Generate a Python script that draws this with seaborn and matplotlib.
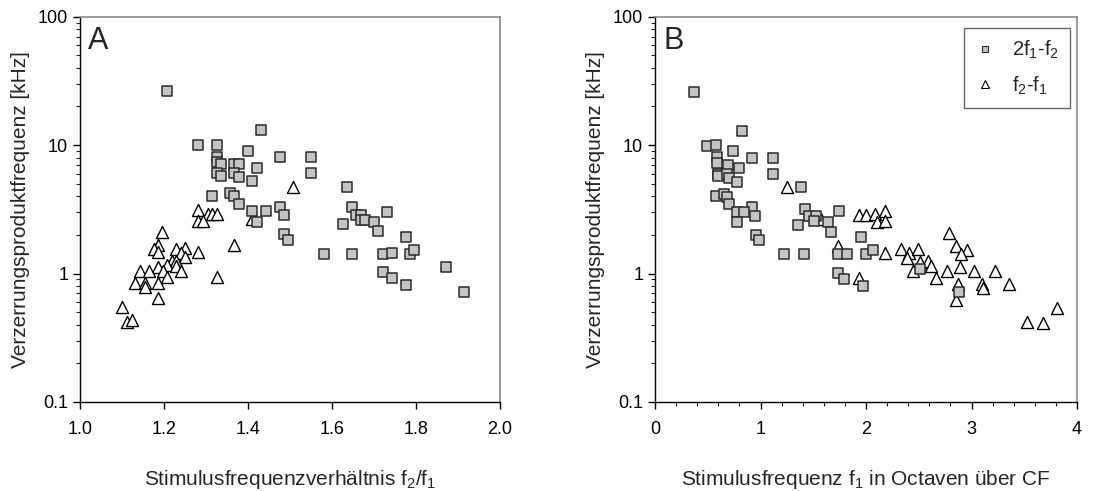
import numpy as np
import pandas as pd
import matplotlib
matplotlib.use("Agg")
import matplotlib.pyplot as plt
from matplotlib.ticker import FixedLocator, MultipleLocator, LogLocator, NullFormatter, FuncFormatter
from matplotlib.lines import Line2D
import seaborn as sns

# ---- data: panel A (ratio f2/f1) ----
a_sq_x = [1.206, 1.432, 1.281, 1.325, 1.40, 1.475, 1.55, 1.55, 1.325, 1.325, 1.336, 1.367, 1.379,
          1.421, 1.325, 1.336, 1.367, 1.379, 1.41, 1.315, 1.357, 1.367, 1.379, 1.475, 1.41, 1.443,
          1.486, 1.421, 1.486, 1.496, 1.635, 1.647, 1.657, 1.668, 1.668, 1.679, 1.70, 1.732, 1.625,
          1.71, 1.775, 1.582, 1.647, 1.721, 1.743, 1.786, 1.796, 1.721, 1.743, 1.775, 1.871, 1.914]
a_sq_y = [26.2, 13.1, 9.95, 10.0, 9.0, 8.08, 8.08, 6.05, 8.1, 7.4, 7.07, 7.07, 7.07,
          6.65, 6.08, 5.77, 6.08, 5.66, 5.25, 4.05, 4.24, 4.05, 3.45, 3.3, 3.06, 3.06,
          2.84, 2.54, 2.05, 1.84, 4.73, 3.27, 2.85, 2.85, 2.63, 2.63, 2.53, 3.04, 2.44,
          2.14, 1.93, 1.43, 1.43, 1.43, 1.45, 1.43, 1.53, 1.03, 0.92, 0.815, 1.13, 0.72]
a_tr_x = [1.508, 1.41, 1.282, 1.304, 1.315, 1.325, 1.282, 1.293, 1.196, 1.186, 1.175, 1.186, 1.229,
          1.251, 1.24, 1.251, 1.282, 1.367, 1.218, 1.229, 1.208, 1.185, 1.229, 1.197, 1.24, 1.143,
          1.165, 1.208, 1.325, 1.132, 1.154, 1.154, 1.185, 1.185, 1.10, 1.111, 1.123]
a_tr_y = [4.73, 2.68, 3.11, 2.9, 2.93, 2.9, 2.57, 2.57, 2.09, 1.66, 1.55, 1.46, 1.55,
          1.57, 1.45, 1.35, 1.46, 1.66, 1.25, 1.25, 1.16, 1.13, 1.14, 1.05, 1.04, 1.04,
          1.04, 0.935, 0.94, 0.84, 0.84, 0.79, 0.84, 0.64, 0.546, 0.417, 0.433]

# ---- data: panel B (octaves above CF) ----
b_sq_x = [0.367, 0.825, 0.49, 0.575, 0.74, 0.919, 1.121, 1.121, 0.588, 0.588, 0.692, 0.799, 0.594,
          0.60, 0.68, 0.698, 0.774, 0.575, 0.657, 0.685, 1.387, 0.705, 0.919, 1.419, 1.741, 0.774,
          0.844, 0.945, 0.774, 0.954, 0.983, 1.22, 1.41, 1.463, 1.523, 1.504, 1.355, 1.637, 1.666,
          1.95, 1.738, 1.823, 2.0, 1.731, 1.791, 1.972, 2.069, 2.512, 2.882]
b_sq_y = [25.8, 12.9, 9.8, 10.0, 8.95, 7.96, 7.96, 6.0, 8.1, 7.3, 6.99, 6.58, 6.0,
          5.73, 6.0, 5.55, 5.18, 4.0, 4.2, 3.95, 4.68, 3.45, 3.3, 3.2, 3.05, 3.0,
          3.0, 2.81, 2.51, 2.0, 1.81, 1.41, 1.41, 2.8, 2.8, 2.57, 2.41, 2.51, 2.1,
          1.91, 1.41, 1.41, 1.41, 1.01, 0.908, 0.806, 1.52, 1.09, 0.719]
b_tr_x = [1.248, 1.573, 1.738, 1.934, 2.0, 2.085, 2.18, 2.1, 2.18, 1.934, 2.177, 2.329, 2.405,
          2.385, 2.493, 2.512, 2.588, 2.616, 2.449, 2.662, 2.77, 2.79, 2.856, 2.955, 2.898, 2.891,
          3.024, 3.226, 2.872, 2.85, 3.103, 3.112, 3.355, 3.529, 3.675, 3.814]
b_tr_y = [4.68, 2.65, 1.64, 2.85, 2.85, 2.9, 3.06, 2.53, 2.56, 0.93, 1.44, 1.55, 1.45,
          1.33, 1.55, 1.23, 1.25, 1.14, 1.04, 0.93, 1.04, 2.06, 1.63, 1.53, 1.42, 1.13,
          1.04, 1.04, 0.836, 0.627, 0.836, 0.778, 0.83, 0.422, 0.415, 0.537]

y_ticks = [0.1, 1, 10, 100]
y_tick_labels = ["0.1", "1", "10", "100"]
a_x_ticks = [1.0, 1.2, 1.4, 1.6, 1.8, 2.0]
b_x_ticks = [0, 1, 2, 3, 4]
legend_labels = ["2f$_1$-f$_2$", "f$_2$-f$_1$"]

sns.set_style("ticks")
plt.rcParams["font.family"] = ["Liberation Sans", "DejaVu Sans"]
plt.rcParams["mathtext.default"] = "regular"

fig = plt.figure(figsize=(11.17, 4.91), dpi=100)
axA = fig.add_axes([80/1117, 1-402/491, 420/1117, (402-16.7)/491])
axB = fig.add_axes([655/1117, 1-402/491, 422/1117, (402-16.7)/491])

SQ_FACE = "#c4c4c4"
SQ_EDGE = "#2b2b2b"

def draw(ax, sx, sy, tx, ty):
    dsq = pd.DataFrame({"x": sx, "y": sy})
    dtr = pd.DataFrame({"x": tx, "y": ty})
    sns.scatterplot(data=dtr, x="x", y="y", ax=ax, marker="^", s=75,
                    facecolor="white", edgecolor="black", linewidth=1.0, zorder=3)
    sns.scatterplot(data=dsq, x="x", y="y", ax=ax, marker="s", s=62,
                    color=SQ_FACE, edgecolor=SQ_EDGE, linewidth=1.1, zorder=4)
    ax.set_yscale("log")
    ax.set_ylim(0.1, 100)
    ax.yaxis.set_major_locator(FixedLocator(y_ticks))
    ax.yaxis.set_major_formatter(FuncFormatter(lambda v, p: y_tick_labels[y_ticks.index(v)] if v in y_ticks else ""))
    ax.yaxis.set_minor_locator(LogLocator(base=10, subs=np.arange(2, 10)))
    ax.yaxis.set_minor_formatter(NullFormatter())
    for s in ["top", "right"]:
        ax.spines[s].set_visible(True)
        ax.spines[s].set_color("#8a8a8a")
        ax.spines[s].set_linewidth(1.2)
    for s in ["left", "bottom"]:
        ax.spines[s].set_color("black")
        ax.spines[s].set_linewidth(1.0)
    ax.tick_params(axis="both", which="major", labelsize=13, length=5, width=1.0, direction="out", colors="black")
    ax.tick_params(axis="both", which="minor", length=3, width=0.8, direction="out")
    ax.tick_params(axis="x", pad=9)
    ax.set_ylabel("Verzerrungsproduktfrequenz [kHz]", fontsize=15, labelpad=6)

draw(axA, a_sq_x, a_sq_y, a_tr_x, a_tr_y)
axA.set_xlim(1.0, 2.0)
axA.xaxis.set_major_locator(FixedLocator(a_x_ticks))
axA.xaxis.set_major_formatter(FuncFormatter(lambda v, p: f"{v:.1f}"))
axA.set_xlabel("Stimulusfrequenzverhältnis f$_2$/f$_1$", fontsize=15, labelpad=21)
axA.text(0.02, 0.975, "A", transform=axA.transAxes, fontsize=22, va="top", ha="left")

draw(axB, b_sq_x, b_sq_y, b_tr_x, b_tr_y)
axB.set_xlim(0, 4)
axB.xaxis.set_major_locator(FixedLocator(b_x_ticks))
axB.xaxis.set_minor_locator(MultipleLocator(0.2))
axB.set_xlabel("Stimulusfrequenz f$_1$ in Octaven über CF", fontsize=15, labelpad=21)
axB.text(0.02, 0.975, "B", transform=axB.transAxes, fontsize=22, va="top", ha="left")

handles = [Line2D([], [], ls="none", marker="s", ms=4.8, mfc=SQ_FACE, mec=SQ_EDGE, mew=0.8),
           Line2D([], [], ls="none", marker="^", ms=5.5, mfc="white", mec="black", mew=0.8)]
leg = axB.legend(handles, legend_labels, loc="upper right", fontsize=14.5, frameon=True,
                 fancybox=False, edgecolor="#444444", borderpad=0.55, handlelength=0.9,
                 handletextpad=0.9, labelspacing=0.65, borderaxespad=0,
                 bbox_to_anchor=(0.983, 0.971))
leg.get_frame().set_linewidth(1.0)

fig.savefig("out.png", dpi=100)
